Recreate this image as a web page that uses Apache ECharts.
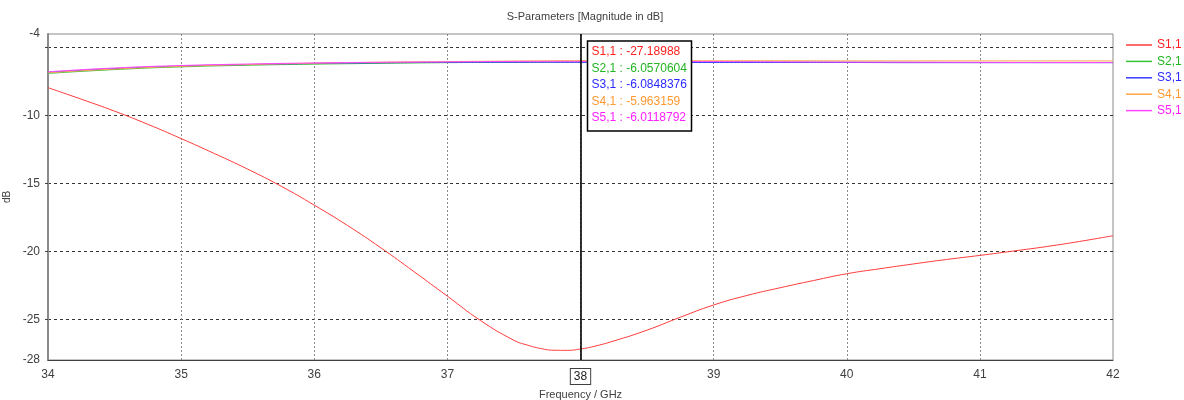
<!DOCTYPE html>
<html>
<head>
<meta charset="utf-8">
<script src="https://cdn.jsdelivr.net/npm/echarts@6/dist/echarts.min.js"></script>
<style>
html,body{margin:0;padding:0;background:#fff;}
#c{width:1184px;height:400px;}
</style>
</head>
<body>
<div id="c"></div>
<script>
// ---- data ----
var freqFine = [34, 34.25, 34.5, 34.75, 35, 35.25, 35.5, 35.75, 36, 36.25, 36.5, 36.75, 37, 37.25, 37.5, 37.6, 37.7, 37.8, 37.9, 38, 38.1, 38.25, 38.5, 38.75, 39, 39.25, 39.5, 39.75, 40, 40.25, 40.5, 40.75, 41, 41.25, 41.5, 41.75, 42];
var s11 = [-7.95, -8.8, -9.68, -10.65, -11.7, -12.8, -13.95, -15.2, -16.6, -18.1, -19.74, -21.5, -23.3, -25.1, -26.55, -26.9, -27.15, -27.28, -27.29, -27.19, -27.0, -26.6, -25.8, -24.85, -23.95, -23.25, -22.68, -22.15, -21.65, -21.28, -20.93, -20.6, -20.3, -19.98, -19.65, -19.27, -18.85];
var freqCoarse = [34, 34.5, 35, 35.5, 36, 36.5, 37, 37.5, 38, 38.5, 39, 39.5, 40, 40.5, 41, 41.5, 42];
var s21 = [-6.9, -6.62, -6.42, -6.3, -6.22, -6.16, -6.11, -6.08, -6.057, -6.06, -6.06, -6.07, -6.08, -6.09, -6.1, -6.1, -6.1];
var s31 = [-6.82, -6.55, -6.36, -6.25, -6.17, -6.12, -6.09, -6.08, -6.085, -6.09, -6.1, -6.1, -6.1, -6.11, -6.11, -6.11, -6.11];
var s41 = [-6.85, -6.58, -6.38, -6.25, -6.15, -6.08, -6.03, -5.99, -5.963, -5.96, -5.97, -5.97, -5.98, -5.98, -5.98, -5.98, -5.98];
var s51 = [-6.78, -6.5, -6.32, -6.21, -6.13, -6.08, -6.05, -6.02, -6.012, -6.02, -6.03, -6.05, -6.07, -6.08, -6.09, -6.1, -6.1];
var seriesNames = ['S1,1', 'S2,1', 'S3,1', 'S4,1', 'S5,1'];
var lineColors = ['#ff3b3b', '#33c433', '#3a3aff', '#ffa54a', '#ff45ff'];
var textColors = ['#ff2020', '#22b522', '#2a2aff', '#ff9933', '#ff20ff'];
var markerFreq = 38;
var markerValues = ['-27.18988', '-6.0570604', '-6.0848376', '-5.963159', '-6.0118792'];
var yLabelTicks = [-28, -25, -20, -15, -10, -4];
var yGridTicks = [-25, -20, -15, -10, -5];
var xMin = 34, xMax = 42, xStep = 1;
var yMin = -28, yMax = -4;

var allData = [[freqFine, s11], [freqCoarse, s21], [freqCoarse, s31], [freqCoarse, s41], [freqCoarse, s51]];
function pairs(xs, vals) { return xs.map(function (f, i) { return [f, vals[i]]; }); }

var FONT = 'Liberation Sans';
var chart = echarts.init(document.getElementById('c'), null, {renderer: 'canvas'});

var series = allData.map(function (d, k) {
  var s = {
    name: seriesNames[k],
    type: 'line',
    data: pairs(d[0], d[1]),
    smooth: 0.5,
    symbol: 'none',
    lineStyle: {color: lineColors[k], width: 1},
    itemStyle: {color: lineColors[k]},
    animation: false,
    z: 3 + k
  };
  if (k === 0) {
    s.markLine = {
      silent: true,
      symbol: ['none', 'none'],
      label: {show: false},
      lineStyle: {color: '#000', width: 1.6, type: 'solid'},
      data: [{xAxis: markerFreq}],
      animation: false,
      z: 10
    };
  }
  return s;
});

chart.setOption({
  animation: false,
  backgroundColor: '#fff',
  textStyle: {fontFamily: FONT},
  title: {
    text: 'S-Parameters [Magnitude in dB]',
    left: 580, top: 6, textAlign: 'center',
    textStyle: {fontFamily: FONT, fontSize: 11, fontWeight: 'normal', color: '#404040'}
  },
  grid: {left: 48, right: 71, top: 34, bottom: 40, outerBoundsMode: 'none', containLabel: false,
         show: true, borderColor: '#8a8a8a', borderWidth: 1, backgroundColor: 'transparent'},
  legend: {
    orient: 'vertical', left: 1126, top: 38, padding: 0,
    icon: 'rect', itemWidth: 26, itemHeight: 1.5, itemGap: 2.4,
    data: seriesNames.map(function (n, k) {
      return {name: n, textStyle: {color: textColors[k]}};
    }),
    textStyle: {fontFamily: FONT, fontSize: 12, lineHeight: 14},
    selectedMode: false
  },
  xAxis: {
    type: 'value', min: xMin, max: xMax, interval: xStep,
    name: 'Frequency / GHz', nameLocation: 'middle', nameGap: 27,
    nameTextStyle: {fontFamily: FONT, fontSize: 11, color: '#404040'},
    axisLine: {show: true, onZero: false, lineStyle: {color: '#404040', width: 1}},
    axisTick: {show: false},
    axisLabel: {
      margin: 9, fontFamily: FONT, fontSize: 12, color: '#404040',
      formatter: function (v) { return v === markerFreq ? '{box|' + v + '}' : String(v); },
      rich: {box: {fontFamily: FONT, fontSize: 12, color: '#202020', borderColor: '#404040', borderWidth: 1, padding: [2, 3, 1, 3], backgroundColor: '#fff'}}
    },
    splitLine: {show: true, showMinLine: false, showMaxLine: false, lineStyle: {color: '#8a8a8a', type: [2, 2], width: 1}}
  },
  yAxis: {
    type: 'value', min: yMin, max: yMax,
    name: 'dB', nameLocation: 'middle', nameGap: 36, nameRotate: 90,
    nameTextStyle: {fontFamily: FONT, fontSize: 10, color: '#404040'},
    axisLine: {show: true, lineStyle: {color: '#8a8a8a', width: 2}},
    axisTick: {show: true, length: 3, customValues: yGridTicks, lineStyle: {color: '#404040'}},
    axisLabel: {margin: 8, fontFamily: FONT, fontSize: 12, color: '#404040', customValues: yLabelTicks},
    splitLine: {show: true, lineStyle: {color: '#333', type: [3, 3], width: 1}}
  },
  series: series
});

// marker annotation box anchored to the marker frequency / top of axis
var p = chart.convertToPixel({gridIndex: 0}, [markerFreq, yMax]);
var bx = p[0] + 7, by = p[1] + 7;
var lines = markerValues.map(function (v, k) {
  return {
    type: 'text', left: bx + 4, top: by + 5 + k * 16.4,
    style: {text: seriesNames[k] + ' : ' + v, fill: textColors[k], font: '12px "' + FONT + '"'},
    z: 101
  };
});
chart.setOption({
  graphic: [{
    type: 'rect', shape: {x: bx, y: by, width: 104, height: 90},
    style: {fill: '#fff', stroke: '#000', lineWidth: 1.5}, z: 100
  }].concat(lines)
});
</script>
</body>
</html>
